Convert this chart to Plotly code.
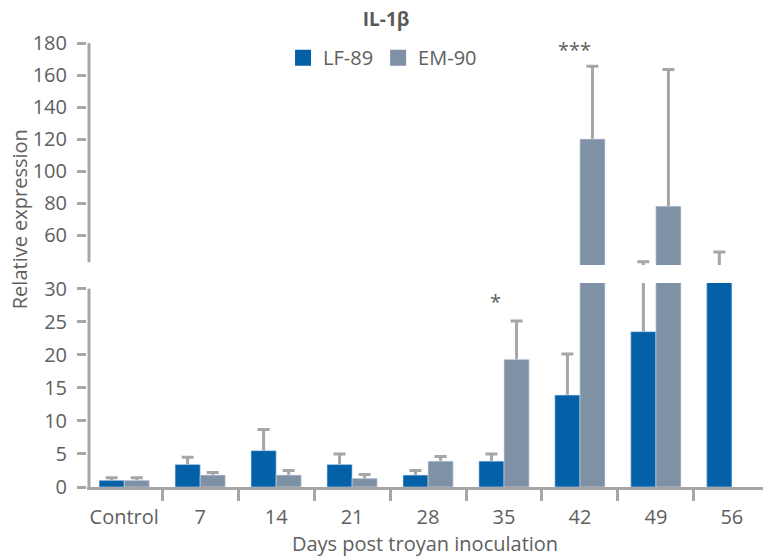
import plotly.graph_objects as go

# IL-1beta relative expression by day post inoculation
categories = ["Control", "7", "14", "21", "28", "35", "42", "49", "56"]
lf89 = [1.0, 3.4, 5.5, 3.4, 1.8, 3.9, 13.9, 23.5, 36.0]
lf89_err = [0.4, 1.1, 3.2, 1.6, 0.7, 1.1, 6.2, 19.8, 13.4]
em90 = [1.0, 1.8, 1.8, 1.3, 3.9, 19.3, 120.0, 78.0, None]
em90_err = [0.4, 0.4, 0.7, 0.6, 0.7, 5.8, 45.5, 85.4, None]

lower_ticks = [0, 5, 10, 15, 20, 25, 30]
upper_ticks = [60, 80, 100, 120, 140, 160, 180]

# significance marks: (category, axis, value, text, shift)
sig_marks = [("35", "y", 28.0, "*", -8), ("42", "y2", 176.0, "***", -5)]

C_LF = "#0461A8"
C_EM = "#7F91A5"
C_ERR = "#A6A6A6"
C_AX = "#A6A6A6"
C_TXT = "#606060"
FONT = "Open Sans"

fig = go.Figure()

panels = [("x", "y"), ("x2", "y2")]


def err(vals):
    return dict(type="data", array=vals, symmetric=True, color=C_ERR,
                thickness=3, width=6, visible=True)


# bars with error bars (broken axis: same data drawn in both panels)
for xa, ya in panels:
    fig.add_trace(go.Bar(x=categories, y=lf89, error_y=err(lf89_err),
                         marker_color=C_LF, offsetgroup="lf", name="LF-89",
                         showlegend=False, xaxis=xa, yaxis=ya))
    fig.add_trace(go.Bar(x=categories, y=em90, error_y=err(em90_err),
                         marker_color=C_EM, offsetgroup="em", name="EM-90",
                         showlegend=False, xaxis=xa, yaxis=ya))
# plain bars on top so only the upper half of each error bar shows
for xa, ya in panels:
    fig.add_trace(go.Bar(x=categories, y=lf89, marker_color=C_LF,
                         offsetgroup="lf", showlegend=False, hoverinfo="skip",
                         xaxis=xa, yaxis=ya))
    fig.add_trace(go.Bar(x=categories, y=em90, marker_color=C_EM,
                         offsetgroup="em", showlegend=False, hoverinfo="skip",
                         xaxis=xa, yaxis=ya))

# legend entries
for name, col in [("LF-89", C_LF), ("EM-90", C_EM)]:
    fig.add_trace(go.Scatter(x=[None], y=[None], mode="markers", name=name,
                             marker=dict(symbol="square", size=16, color=col),
                             xaxis="x", yaxis="y"))

annotations = []
for cat, ax, val, txt, shift in sig_marks:
    annotations.append(dict(x=categories.index(cat), y=val, xref="x", yref=ax,
                            text=txt, showarrow=False, xshift=shift,
                            xanchor="center", yanchor="middle",
                            font=dict(family=FONT, size=20, color=C_TXT)))
annotations.append(dict(x=-0.1, y=0.604, xref="paper", yref="paper",
                        xanchor="center", yanchor="middle",
                        text="Relative expression", textangle=-90,
                        showarrow=False,
                        font=dict(family=FONT, size=20, color=C_TXT)))

shapes = [
    dict(type="line", xref="paper", yref="y", x0=0.003, x1=0.003, y0=0, y1=30,
         line=dict(color=C_AX, width=3)),
    dict(type="line", xref="paper", yref="y2", x0=0.003, x1=0.003, y0=43, y1=180,
         line=dict(color=C_AX, width=3)),
]

yax_common = dict(showline=False, showgrid=False, zeroline=False,
                  ticks="outside", ticklen=9, tickwidth=3, tickcolor=C_AX,
                  tickfont=dict(family=FONT, size=20, color=C_TXT),
                  ticklabelstandoff=6, automargin=False)

fig.update_layout(
    width=763, height=558,
    margin=dict(l=87, r=0, t=43, b=71, autoexpand=False),
    paper_bgcolor="white", plot_bgcolor="white",
    barmode="group", bargap=0.34, bargroupgap=0,
    font=dict(family=FONT, color=C_TXT),
    title=dict(text="<b>IL-1β</b>", x=0.506, xref="container", xanchor="center",
               y=0.965, yanchor="middle",
               font=dict(family=FONT, size=19, color="#595959")),
    legend=dict(orientation="h", x=0.29, xanchor="left", y=0.967,
                yanchor="middle", bgcolor="rgba(0,0,0,0)",
                font=dict(family=FONT, size=20, color=C_TXT)),
    xaxis=dict(domain=[0, 1], anchor="y", type="category",
               range=[-0.49, 8.41], showline=True, linecolor=C_AX, linewidth=3,
               ticks="outside", tickson="boundaries", ticklen=11, tickwidth=3,
               tickcolor=C_AX, showgrid=False, zeroline=False, tickangle=0,
               automargin=False, ticklabelstandoff=10,
               tickfont=dict(family=FONT, size=20, color=C_TXT),
               title=dict(text="Days post troyan inoculation", standoff=6,
                          font=dict(family=FONT, size=20, color=C_TXT))),
    xaxis2=dict(domain=[0, 1], anchor="y2", matches="x", visible=False),
    yaxis=dict(domain=[0, 0.4595], anchor="x", range=[0, 30.86],
               tickvals=lower_ticks, **yax_common),
    yaxis2=dict(domain=[0.5, 1], anchor="x2", range=[41.25, 180],
                tickvals=upper_ticks, **yax_common),
    annotations=annotations,
    shapes=shapes,
)

fig.write_html("out.html")
